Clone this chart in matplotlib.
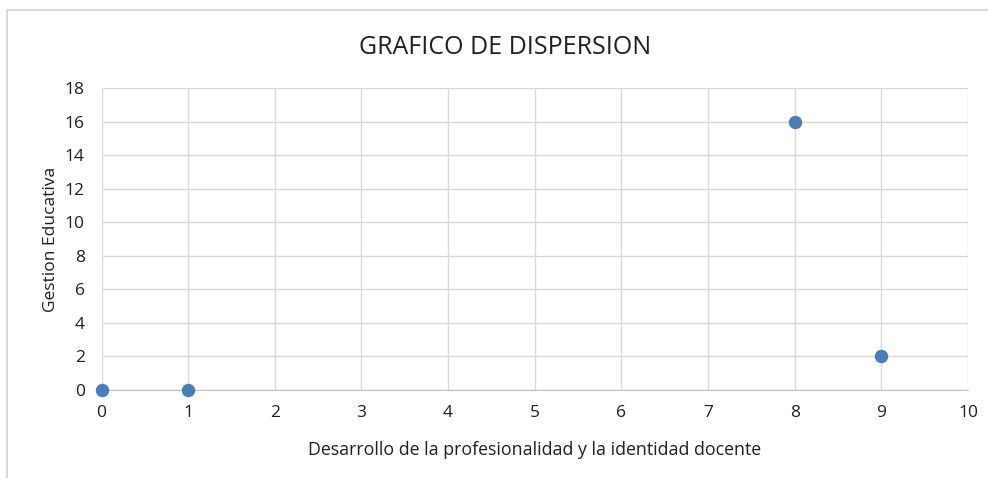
import matplotlib.pyplot as plt
from matplotlib.patches import Rectangle

# datos
desarrollo = [0, 1, 8, 9]
gestion = [0, 0, 16, 2]
x_ticks = list(range(0, 11))
y_ticks = list(range(0, 19, 2))

plt.rcParams['font.family'] = ['Open Sans', 'DejaVu Sans']
txt = '#1f1f1f'

W, H = 988, 478
fig = plt.figure(figsize=(W / 100, H / 100), dpi=100)

# borde del area del grafico (se sale por la derecha y abajo)
fig.patches.append(Rectangle((7 / W, -0.1), 1.2, 1 - 10 / H + 0.1,
                             transform=fig.transFigure, fill=False,
                             edgecolor='#d9d9d9', linewidth=1.5))

ax = fig.add_axes([101.5 / W, 1 - 390 / H, (968 - 101.5) / W, (390 - 88) / H])
ax.scatter(desarrollo, gestion, s=75, color='#4a7ebb', zorder=3, clip_on=False)

ax.set_xlim(0, 10)
ax.set_ylim(0, 18)
ax.set_xticks(x_ticks)
ax.set_yticks(y_ticks)
ax.grid(True, color='#d9d9d9', linewidth=1)
ax.set_axisbelow(True)
for side in ['top', 'right', 'left']:
    ax.spines[side].set_visible(False)
ax.spines['bottom'].set_color('#bfbfbf')
ax.tick_params(length=0, labelsize=12.5, colors=txt, pad=11)
ax.tick_params(axis='y', pad=12)

ax.set_xlabel('Desarrollo de la profesionalidad y la identidad docente',
              fontsize=12.8, color=txt, labelpad=14)
ax.set_ylabel('Gestion Educativa', fontsize=12.5, color=txt, labelpad=4)

fig.text(505 / W, 1 - 47 / H, 'GRAFICO DE DISPERSION', ha='center', va='center',
         fontsize=18, color=txt)

fig.savefig('out.png', dpi=100)
